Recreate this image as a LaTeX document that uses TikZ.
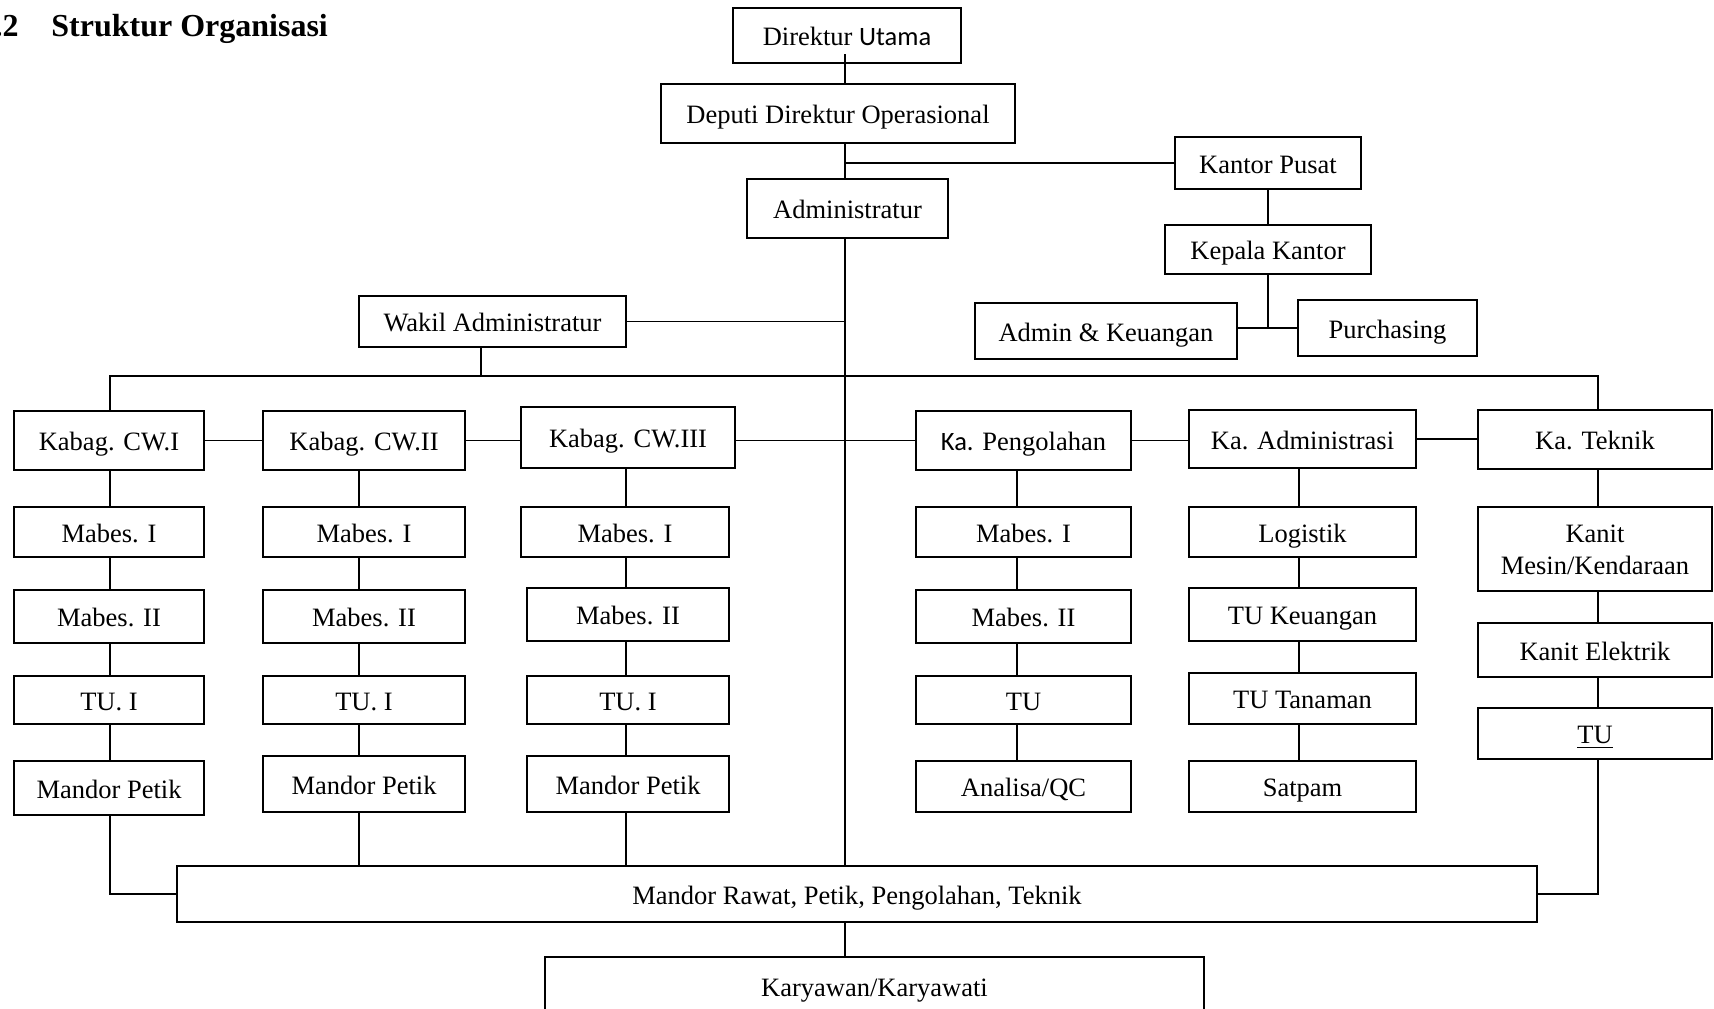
\documentclass[tikz,border=0pt]{standalone}
\usepackage{fontspec}
\setmainfont{Liberation Serif}
\newfontfamily\calibfont{Carlito}
\newcommand\obox[6]{\node[obx,captxt,minimum width={(#4-#2)*0.5pt},minimum height={(#5-#3)*0.5pt}] (#1) at ({(#2+#4)/2},{(#3+#5)/2}) {#6};}
\newcommand\vl[3]{\draw[con] (#1.south -| #3) -- (#2.north -| #3);}
\begin{document}
\begin{tikzpicture}[x=0.5pt,y=-0.5pt,
  obx/.style={draw,line width=1.1pt,inner sep=0pt,align=center,font=\fontsize{13.25pt}{16pt}\selectfont},
  captxt/.style={text height=10.4pt,text depth=0pt},
  con/.style={line width=0.75pt},
  ttl/.style={inner sep=0pt,font=\bfseries\fontsize{16pt}{19pt}\selectfont}]
\useasboundingbox (0,0) rectangle (1714,1008);
\clip (0,0) rectangle (1714,1008);
\fill[white] (0,0) rectangle (1714,1008);
% title
\node[ttl,anchor=base east] (tn) at (19,36) {.2};
\node[ttl,anchor=base west] (tt) at (51,36) {Struktur Organisasi};
% top
\obox{du}{733}{8}{961}{63}{Direktur {\calibfont Utama}}
\obox{dd}{661}{84}{1015}{143}{Deputi Direktur Operasional}
\obox{kp}{1175}{137}{1361}{189}{Kantor Pusat}
\obox{adm}{747}{179}{948}{238}{Administratur}
\obox{kk}{1165}{225}{1371}{274}{Kepala Kantor}
\obox{ak}{975}{303}{1237}{359}{Admin \& Keuangan}
\obox{pu}{1298}{300}{1477}{356}{Purchasing}
\obox{wa}{359}{296}{626}{347}{Wakil Administratur}
% heads
\obox{k1}{14}{411}{204}{470}{Kabag. CW.I}
\obox{k2}{263}{411}{465}{470}{Kabag. CW.II}
\obox{k3}{521}{407}{735}{468}{Kabag. CW.III}
\obox{k4}{916}{411}{1131}{470}{{\calibfont Ka.} Pengolahan}
\obox{k5}{1189}{410}{1416}{468}{Ka. Administrasi}
\obox{k6}{1478}{410}{1712}{469}{Ka. Teknik}
% column 1
\obox{a1}{14}{507}{204}{557}{Mabes. I}
\obox{a2}{14}{590}{204}{643}{Mabes. II}
\obox{a3}{14}{676}{204}{724}{TU. I}
\obox{a4}{14}{761}{204}{815}{Mandor Petik}
% column 2
\obox{b1}{263}{507}{465}{557}{Mabes. I}
\obox{b2}{263}{590}{465}{643}{Mabes. II}
\obox{b3}{263}{676}{465}{724}{TU. I}
\obox{b4}{263}{756}{465}{812}{Mandor Petik}
% column 3
\obox{c1}{521}{507}{729}{557}{Mabes. I}
\obox{c2}{527}{588}{729}{641}{Mabes. II}
\obox{c3}{527}{676}{729}{724}{TU. I}
\obox{c4}{527}{756}{729}{812}{Mandor Petik}
% column 4
\obox{d1}{916}{507}{1131}{557}{Mabes. I}
\obox{d2}{916}{590}{1131}{643}{Mabes. II}
\obox{d3}{916}{676}{1131}{724}{TU}
\obox{d4}{916}{761}{1131}{812}{Analisa/QC}
% column 5
\obox{e1}{1189}{507}{1416}{557}{Logistik}
\obox{e2}{1189}{588}{1416}{641}{TU Keuangan}
\obox{e3}{1189}{673}{1416}{724}{TU Tanaman}
\obox{e4}{1189}{761}{1416}{812}{Satpam}
% column 6
\node[obx,minimum width={234*0.5pt},minimum height={84*0.5pt}] (f1) at (1595,549) {\rule{0pt}{10pt}Kanit\\Mesin/Kendaraan};
\obox{f2}{1478}{623}{1712}{677}{Kanit Elektrik}
\obox{f3}{1478}{708}{1712}{759}{\underline{TU}}
% bottom
\obox{mr}{177}{866}{1537}{922}{Mandor Rawat, Petik, Pengolahan, Teknik}
\obox{ka}{545}{957}{1204}{1015}{Karyawan/Karyawati}
% coordinates
\coordinate (sp) at (845,0);
\coordinate (L1) at (110,0);
\coordinate (L2) at (359,0);
\coordinate (L3) at (626,0);
\coordinate (L4) at (1017,0);
\coordinate (L5) at (1299,0);
\coordinate (L6) at (1598,0);
\coordinate (wax) at (481,0);
\coordinate (bus) at (0,376);
% connectors
\draw[con] (du.south -| sp) ++(0,-10) -- (dd.north -| sp);
\draw[con] (dd.south -| sp) -- (adm.north -| sp);
\draw[con] (kp.west -| sp) -- (kp.west);
\draw[con] (kp.south) -- (kk.north);
\draw[con] (kk.south) -- (kk.south |- pu.west);
\draw[con] (pu.west -| ak.east) -- (pu.west);
\draw[con] (adm.south -| sp) -- (mr.north -| sp);
\draw[con] (wa.east) -- (wa.east -| sp);
\draw[con] (wa.south -| wax) -- (wax |- bus);
\draw[con] (k1.north -| L1) -- (L1 |- bus) -- (L6 |- bus) -- (k6.north -| L6);
\draw[con] (k1.east) -- (k2.west);
\draw[con] (k2.east) -- (k2.east -| k3.west);
\draw[con] (k3.east |- k4.west) -- (k4.west);
\draw[con] (k4.east) -- (k4.east -| k5.west);
\draw[con] (k5.east) -- (k5.east -| k6.west);
\vl{k1}{a1}{L1}\vl{a1}{a2}{L1}\vl{a2}{a3}{L1}\vl{a3}{a4}{L1}
\vl{k2}{b1}{L2}\vl{b1}{b2}{L2}\vl{b2}{b3}{L2}\vl{b3}{b4}{L2}
\vl{k3}{c1}{L3}\vl{c1}{c2}{L3}\vl{c2}{c3}{L3}\vl{c3}{c4}{L3}
\vl{k4}{d1}{L4}\vl{d1}{d2}{L4}\vl{d2}{d3}{L4}\vl{d3}{d4}{L4}
\vl{k5}{e1}{L5}\vl{e1}{e2}{L5}\vl{e2}{e3}{L5}\vl{e3}{e4}{L5}
\vl{k6}{f1}{L6}\vl{f1}{f2}{L6}\vl{f2}{f3}{L6}
\draw[con] (a4.south -| L1) |- (mr.west);
\draw[con] (b4.south -| L2) -- (mr.north -| L2);
\draw[con] (c4.south -| L3) -- (mr.north -| L3);
\draw[con] (f3.south -| L6) |- (mr.east);
\draw[con] (mr.south -| sp) -- (ka.north -| sp);
\end{tikzpicture}
\end{document}
